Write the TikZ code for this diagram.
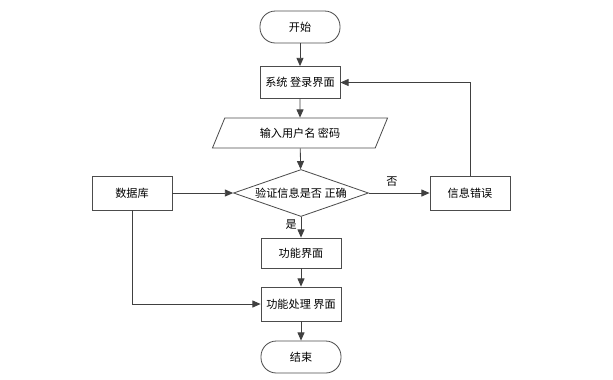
\documentclass[tikz,border=0pt]{standalone}
\usepackage{fontspec}
\setmainfont{Noto Sans CJK SC}
\usetikzlibrary{arrows.meta,shapes.geometric}

\tikzset{
  box/.style={draw=black!70,line width=0.7pt,minimum width=2.4cm,minimum height=0.96cm,inner sep=1pt},
  term/.style={box,rounded corners=0.46cm},
  iobox/.style={draw=black!70,line width=0.7pt,trapezium,trapezium left angle=62,trapezium right angle=118,
    trapezium stretches=true,minimum width=5.28cm,minimum height=0.9cm,inner sep=1pt},
  decide/.style={draw=black!70,line width=0.7pt,diamond,aspect=2.9,inner sep=0pt,minimum width=4.05cm,minimum height=1.41cm},
  flow/.style={draw=black!75,line width=0.7pt,-{Triangle[length=7pt,width=6pt]}},
}

\begin{document}
\begin{tikzpicture}[x=0.03cm,y=-0.03cm,font=\fontsize{9.5}{11}\selectfont]
  \useasboundingbox (0,0) rectangle (613,379);
  % main column
  \node[term] (start) at (300,27) {开始};
  \node[box] (login) at (300,82.5) {系统 登录界面};
  \node[iobox] (input) at (300,133) {输入用户名 密码};
  \node[decide] (check) at (301,193) {验证信息是否 正确};
  \node[box,minimum height=1.02cm] (db) at (132,193) {数据库};
  \node[box,minimum height=1.02cm] (err) at (470,193) {信息错误};
  \node[box,minimum height=0.9cm] (func) at (301,253) {功能界面};
  \node[box,minimum height=1.02cm] (proc) at (301,304) {功能处理 界面};
  \node[term] (stop) at (301,357) {结束};
  % connectors
  \draw[flow] (start) -- (login);
  \draw[flow] (login) -- (input);
  \draw[flow] (input) -- (check);
  \draw[flow] (db) -- (check);
  \draw[flow] (check) -- node[pos=0.38,above=2pt] {否} (err);
  \draw[flow] (check) -- node[pos=0.35,left=0pt] {是} (func);
  \draw[flow] (func) -- (proc);
  \draw[flow] (proc) -- (stop);
  \draw[flow] (err.north) |- (login.east);
  \draw[flow] (db.south) |- (proc.west);
\end{tikzpicture}
\end{document}
